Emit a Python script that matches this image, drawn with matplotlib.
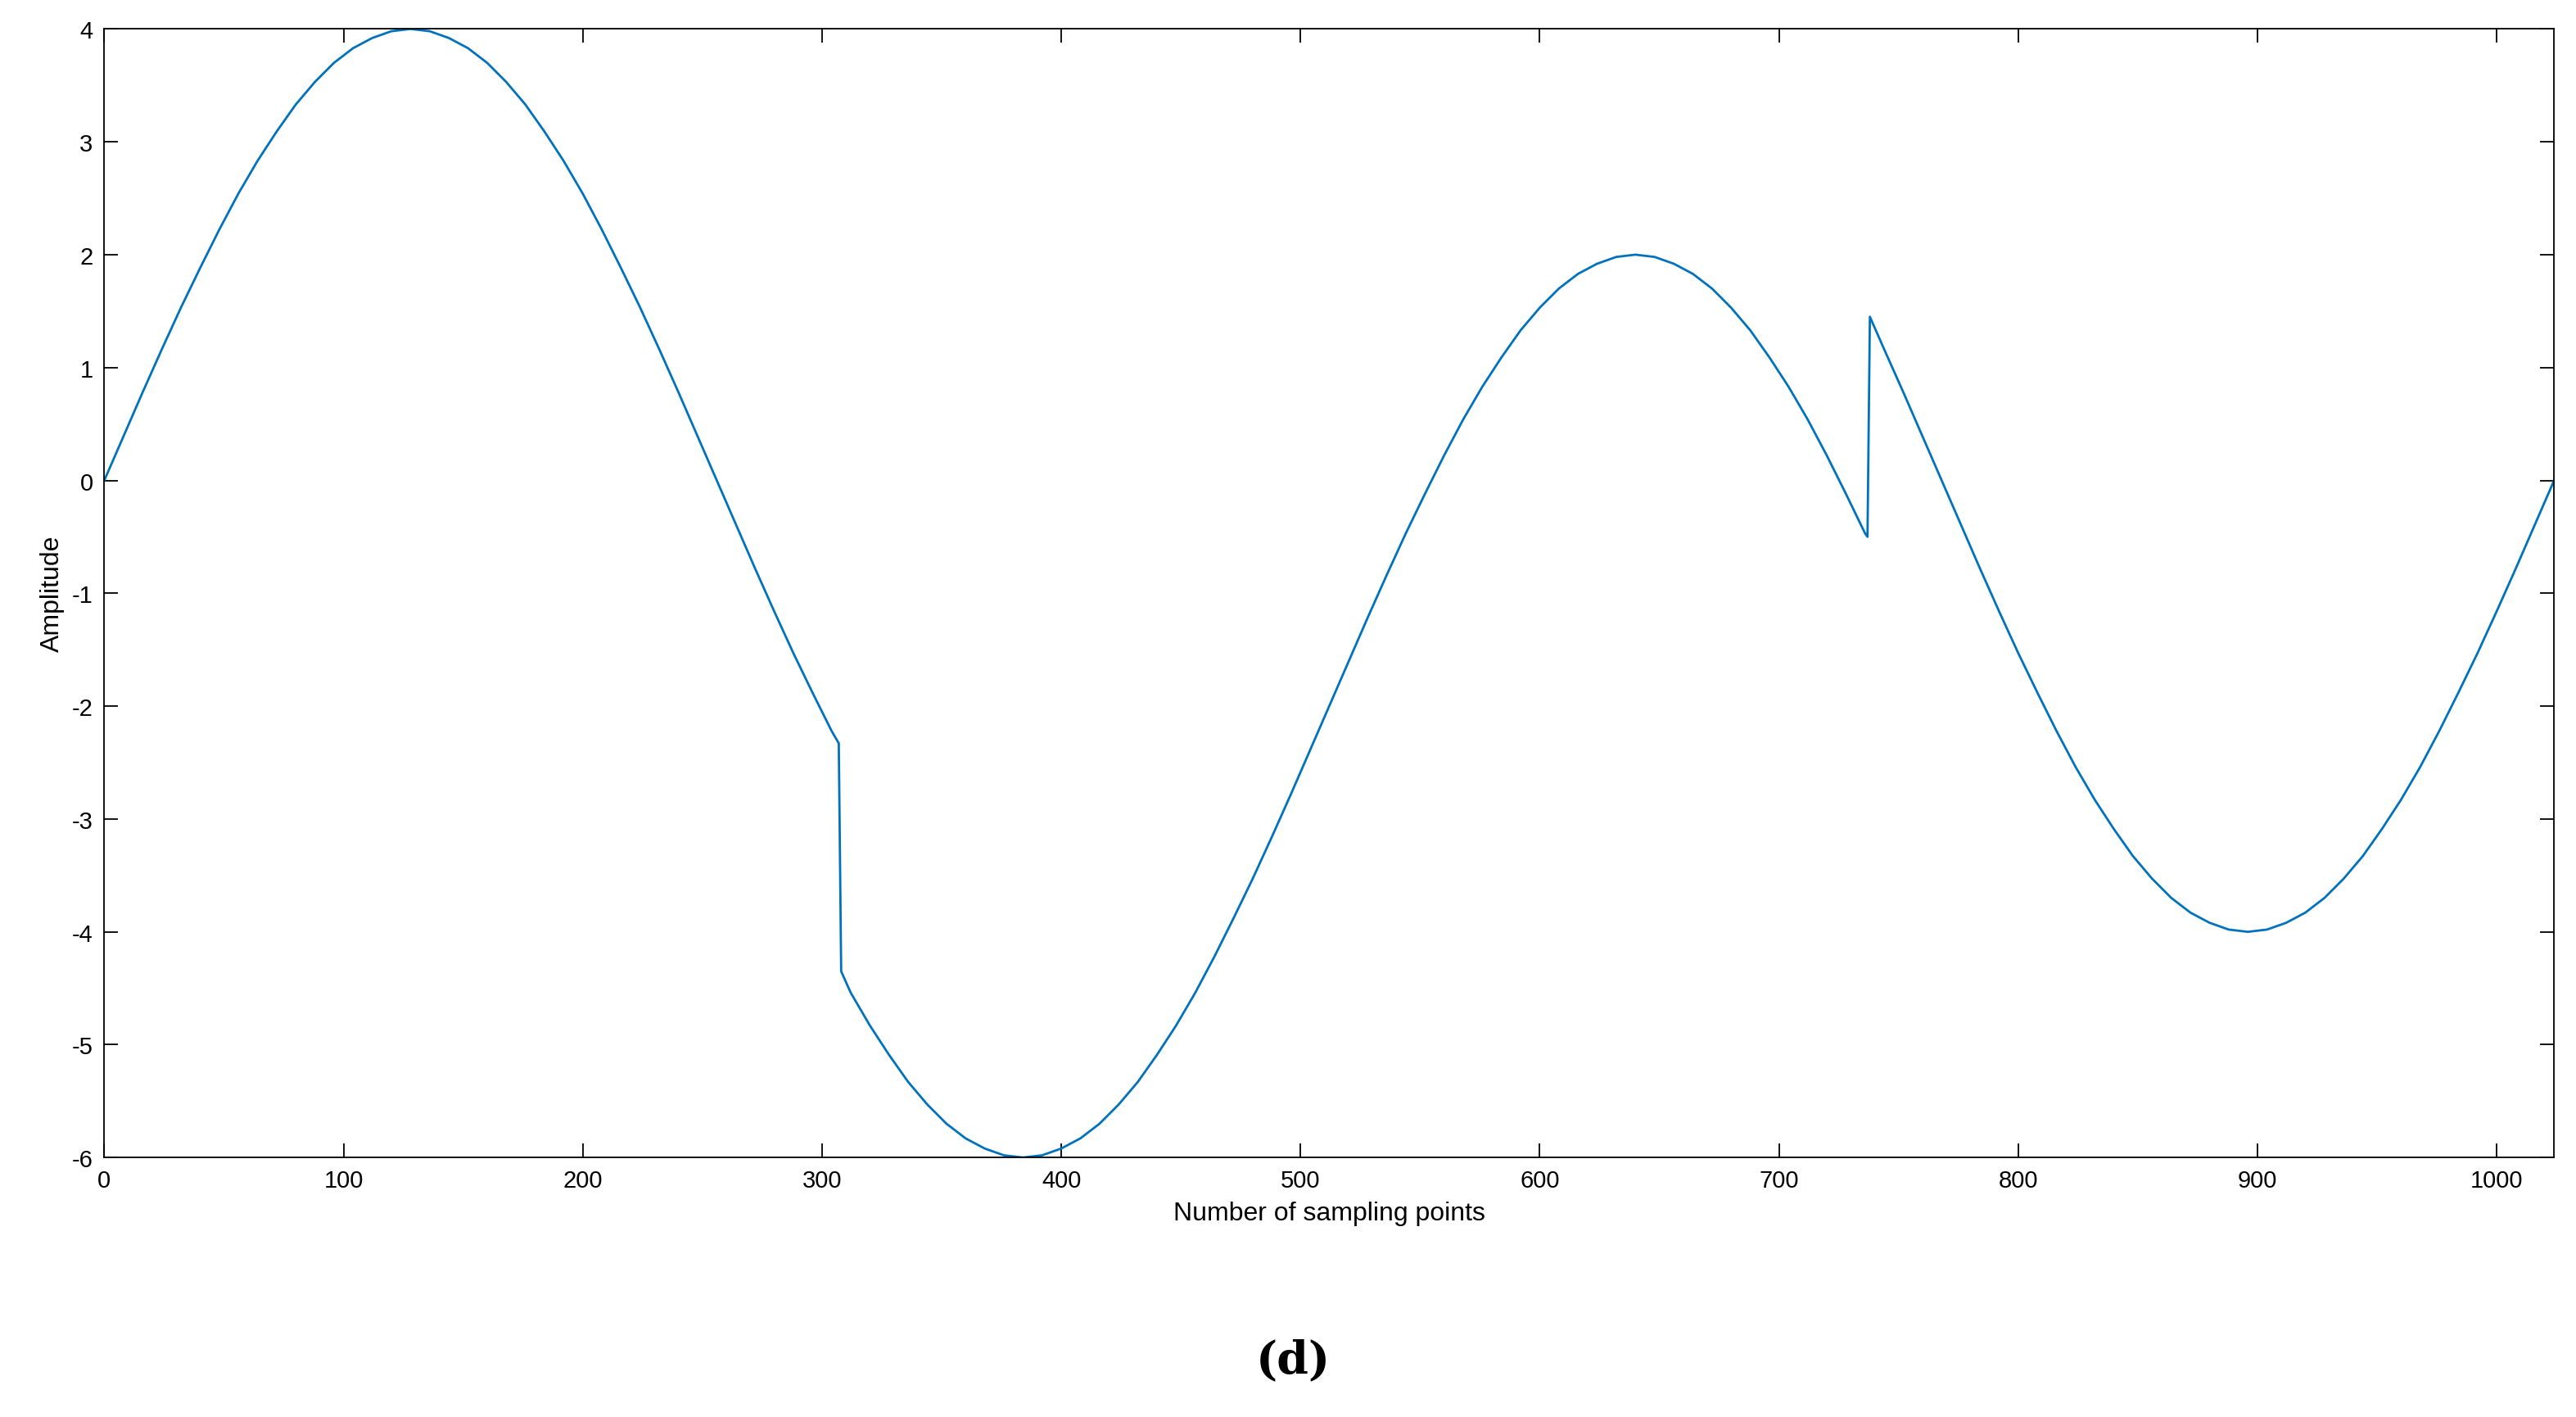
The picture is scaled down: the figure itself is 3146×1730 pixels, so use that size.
import matplotlib
matplotlib.use("Agg")
import matplotlib.pyplot as plt

seg1_x = list(range(0, 305, 8)) + [307]
seg1_y = [0,0.39,0.78,1.16,1.53,1.88,2.22,2.54,2.83,3.09,3.33,3.53,3.70,3.83,3.92,3.98,4.0,
          3.98,3.92,3.83,3.70,3.53,3.33,3.09,2.83,2.54,2.22,1.88,1.53,1.16,0.78,0.39,0,
          -0.39,-0.78,-1.16,-1.53,-1.88,-2.22,-2.33]
seg2_x = [307, 308] + list(range(312, 737, 8)) + [737]
seg2_y = [-2.33,-4.35,
          -4.54,-4.83,-5.09,-5.33,-5.53,-5.70,-5.83,-5.92,-5.98,-6.0,
          -5.98,-5.92,-5.83,-5.70,-5.53,-5.33,-5.09,-4.83,-4.54,-4.22,-3.88,-3.53,-3.16,-2.78,-2.39,-2.0,
          -1.61,-1.22,-0.84,-0.47,-0.12,0.22,0.54,0.83,1.09,1.33,1.53,1.70,1.83,1.92,1.98,2.0,
          1.98,1.92,1.83,1.70,1.53,1.33,1.09,0.83,0.54,0.22,-0.12,-0.47,
          -0.5]
seg3_x = [737, 738] + list(range(744, 1025, 8))
seg3_y = [-0.5,1.45,
          1.16,0.78,0.39,0,
          -0.39,-0.78,-1.16,-1.53,-1.88,-2.22,-2.54,-2.83,-3.09,-3.33,-3.53,-3.70,-3.83,-3.92,-3.98,-4.0,
          -3.98,-3.92,-3.83,-3.70,-3.53,-3.33,-3.09,-2.83,-2.54,-2.22,-1.88,-1.53,-1.16,-0.78,-0.39,0]

x = seg1_x + seg2_x + seg3_x
y = seg1_y + seg2_y + seg3_y
xticks = list(range(0, 1001, 100))
yticks = list(range(-6, 5))

plt.rcParams['font.family'] = ['Liberation Sans', 'DejaVu Sans']
plt.rcParams['axes.unicode_minus'] = False
fig = plt.figure(figsize=(31.46, 17.31), dpi=100)
ax = fig.add_axes([0.0405, 0.183, 0.951, 0.796])
ax.plot(x, y, color='#0072BD', lw=2.0)
ax.set_xlim(0, 1024)
ax.set_ylim(-6, 4)
ax.set_xticks(xticks)
ax.set_yticks(yticks)
ax.tick_params(direction='in', length=12, width=1.3, labelsize=21, top=True, right=True, pad=10)
for s in ax.spines.values():
    s.set_linewidth(1.3)
ax.set_xlabel('Number of sampling points', fontsize=23, labelpad=8)
ax.set_ylabel('Amplitude', fontsize=23, labelpad=6)
fig.text(0.502, 0.04, '(d)', ha='center', va='center', fontsize=40, fontweight='bold', family=['DejaVu Serif'])
fig.savefig('out.png', dpi=100)
